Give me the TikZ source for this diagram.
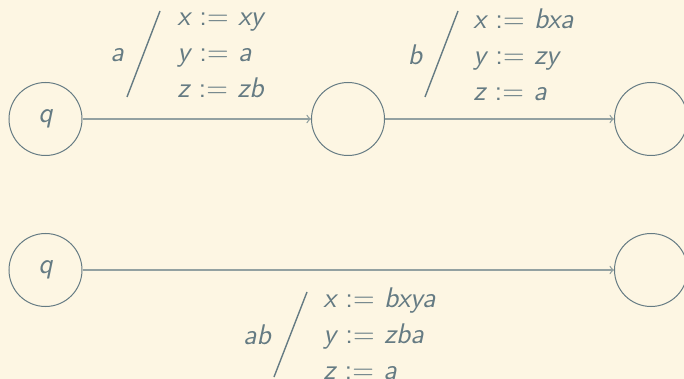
\documentclass[tikz,border=0pt]{standalone}
\usepackage{fontspec}
\definecolor{bg}{HTML}{FDF6E3}
\definecolor{ink}{HTML}{657B83}
\definecolor{conn}{HTML}{93A1A1}
\tikzset{
  stateC/.style={circle, draw=ink, line width=0.5pt, minimum size=36.5pt, inner sep=0pt, text=ink},
  connL/.style={draw=conn, line width=0.65pt, ->},
  slashL/.style={draw=ink, line width=0.7pt},
  lbl/.style={text=ink, inner sep=0pt, font=\sffamily\itshape\fontsize{14.2}{18}\selectfont},
  upd/.style={lbl, align=left, anchor=west}
}
\newcommand{\asg}{\upshape\ :=\ \itshape}
\begin{document}
\begin{tikzpicture}[x=0.5pt,y=-0.5pt]
\useasboundingbox[fill=bg] (0,0) rectangle (684,379);
% top row
\node[stateC, lbl] (q1) at (45.5,119) {q};
\node[stateC] (m) at (348,119) {};
\node[stateC] (r1) at (651,119) {};
\draw[connL] (q1) -- (m);
\draw[connL] (m) -- (r1);
\node[lbl] (la) at (117,55) {a};
\draw[slashL] (160,11) -- (127,97);
\node[upd] (ua) at (177,55) {x\asg xy\\ y\asg a\\ z\asg zb};
\node[lbl] (lb) at (415,55) {b};
\draw[slashL] (458,11) -- (425,97);
\node[upd] (ub) at (473,55) {x\asg bxa\\ y\asg zy\\ z\asg a};
% bottom row
\node[stateC, lbl] (q2) at (45.5,270) {q};
\node[stateC] (r2) at (651,270) {};
\draw[connL] (q2) -- (r2);
\node[lbl] (lab) at (257,335) {ab};
\draw[slashL] (307,292) -- (274,377);
\node[upd] (uab) at (323,334) {x\asg bxya\\ y\asg zba\\ z\asg a};
\end{tikzpicture}
\end{document}
